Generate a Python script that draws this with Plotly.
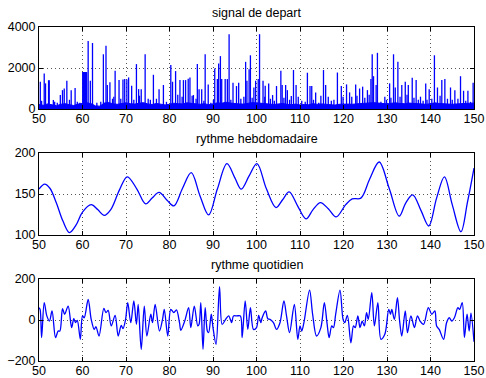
import numpy as np
import plotly.graph_objects as go
from plotly.subplots import make_subplots

# ---------------- data: signal de depart ----------------
floor_day = list(range(50, 151))
floor_val = [220, 180, 250, 200, 160, 230, 260, 210, 170, 240,
             280, 300, 260, 150, 140, 290, 320, 250, 230, 280,
             300, 260, 240, 280, 310, 250, 220, 270, 240, 200,
             230, 280, 260, 250, 300, 270, 240, 230, 260, 210,
             250, 300, 280, 330, 290, 260, 250, 240, 280, 310,
             300, 290, 260, 240, 220, 250, 270, 230, 210, 240,
             200, 220, 210, 260, 230, 250, 240, 200, 190, 230,
             250, 240, 230, 260, 270, 280, 300, 310, 290, 260,
             250, 280, 300, 270, 260, 290, 280, 250, 240, 230,
             260, 300, 270, 250, 240, 230, 250, 270, 260, 280,
             290]

spike_day = [50.3, 50.6, 51.2, 51.5, 52.2, 52.35, 53.3, 53.6, 54.2, 54.9,
             55.4, 55.8, 56.4, 57.0, 57.4, 58.3, 58.8, 59.4,
             60.05, 60.2, 60.35, 60.5, 60.65, 60.8, 60.95,
             61.3, 61.8, 62.3, 63.3, 64.2, 64.8, 65.4, 65.7, 66.3, 66.9,
             67.2, 67.5, 68.4, 68.8, 69.3, 69.7, 70.2, 70.6, 71.3, 71.8,
             72.4, 72.9, 73.1, 73.5, 74.4, 75.1, 75.6, 76.3, 77.0, 77.6,
             78.6, 79.3, 80.3, 80.7, 81.4, 81.9, 82.4, 82.9, 83.2, 83.7,
             84.3, 84.7, 85.2, 85.5, 86.1, 86.4, 86.8, 87.4, 87.9, 88.2,
             88.9, 89.5, 90.1, 90.4, 91.0, 91.3, 91.7, 92.0, 92.8, 93.3,
             93.7, 94.1, 94.6, 95.4, 95.9, 96.4, 97.1, 97.5, 97.8, 98.3,
             98.6, 99.0, 99.4, 99.8, 100.4, 100.7, 101.5, 101.9, 102.0, 102.8,
             103.2, 103.7, 104.1, 104.6, 105.6, 105.9, 106.3, 106.7, 107.1, 107.6,
             108.0, 108.5, 109.1, 109.6, 110.4, 111.2, 111.7, 112.3, 112.7, 113.1,
             113.6, 114.3, 114.8, 115.4, 115.9, 116.5, 117.2, 117.8, 118.6, 119.5,
             119.9, 120.7, 121.4, 121.9, 122.8, 123.1, 123.7, 124.4, 124.9, 125.5,
             125.9, 126.3, 126.6, 126.9, 127.5, 127.8, 128.6, 129.5, 129.9, 130.6,
             130.9, 131.5, 131.9, 132.5, 133.0, 133.4, 134.2, 134.6, 134.9, 135.8,
             136.2, 136.7, 137.2, 137.7, 138.3, 138.9, 139.2, 139.7, 140.3, 140.9,
             141.6, 142.2, 142.6, 143.3, 143.9, 144.6, 145.0, 145.6, 146.3, 146.9,
             147.6, 148.1, 148.6, 149.2, 149.8]
spike_val = [1330, 400, 1730, 1250, 1400, 1400, 440, 350, 300, 680,
             920, 1000, 1380, 450, 920, 1020, 350, 300,
             1800, 1800, 1800, 1800, 1800, 1800, 1800,
             3320, 1380, 3220, 300, 350, 2670, 3080, 1170, 1300, 500,
             600, 1860, 1410, 500, 1440, 1460, 1440, 1540, 1130, 450,
             2190, 970, 650, 960, 2670, 500, 450, 1670, 500, 960,
             1170, 350, 2150, 1330, 1850, 700, 1410, 600, 1410, 1410,
             1470, 1540, 650, 680, 500, 2190, 960, 960, 400, 2670,
             1200, 300, 450, 1980, 1460, 2220, 2580, 1460, 1460, 1460,
             3650, 450, 1280, 1120, 1280, 500, 600, 2300, 1380, 1940,
             2620, 550, 1050, 1380, 1460, 3650, 1380, 600, 1130, 1250,
             500, 680, 400, 1120, 1860, 1170, 550, 1170, 920, 450,
             630, 1900, 1170, 600, 400, 350, 1770, 1120, 1120, 450,
             810, 300, 650, 1900, 1170, 600, 400, 450, 1780, 1120,
             600, 1200, 810, 600, 1200, 650, 1000, 1090, 550, 920,
             700, 1460, 2670, 1600, 1170, 2740, 350, 600, 450, 1250,
             550, 2670, 1050, 2300, 600, 1170, 1330, 700, 1170, 1520,
             550, 1410, 450, 600, 400, 1250, 450, 960, 500, 2620,
             1050, 650, 1410, 1460, 500, 1050, 450, 920, 500, 1600,
             890, 400, 890, 350, 1280]

# ---------------- data: rythme hebdomadaire ----------------
week_day = [50, 51.3, 52.5, 54, 55.5, 57, 58.5, 60, 62, 63.5,
            65, 66.5, 68.5, 70.3, 72.5, 74.5, 76, 77.6, 79.5, 81,
            83, 85, 87, 89, 91, 93.2, 95, 96.5, 98.3, 100.1,
            102.3, 104.5, 106, 107.5, 109.5, 111.4, 113, 114.7, 116.5, 118.3,
            120.5, 122, 124, 126, 128.2, 130.5, 132.8, 134.3, 135.9, 137.8,
            139.6, 141.4, 143.2, 145, 147, 148.5, 150]
week_val = [156, 162, 157, 139, 117, 103, 112, 128, 137, 131,
            124, 131, 155, 171, 156, 138, 145, 152, 142, 135.5,
            157, 176, 148, 124.5, 156, 187, 170, 156, 172, 187,
            156, 133.5, 143, 152.5, 135, 119.6, 131, 139.6, 132, 122,
            137, 144, 145, 168, 189, 157, 123, 139, 149, 130,
            111, 145, 171, 137, 104, 140, 181.6]

# ---------------- data: rythme quotidien ----------------
day_t = [50.0, 50.25, 50.6, 51.2, 51.8, 52.4, 53.0, 53.8, 54.4, 54.8,
         55.4, 55.9, 56.7, 57.5, 58.0, 58.4, 58.8, 59.5, 60.0, 60.4,
         61.3, 62.0, 62.7, 63.1, 63.8, 64.9, 65.4, 65.9, 66.6, 67.5,
         68.2, 68.9, 69.3, 69.9, 70.4, 71.1, 71.8, 72.4, 72.8, 73.5,
         74.2, 74.8, 75.7, 76.1, 76.7, 77.7, 78.4, 78.8, 79.6, 80.3,
         81.0, 81.6, 82.3, 82.6, 83.5, 84.4, 84.9, 85.7, 86.5, 86.8,
         87.2, 87.7, 88.2, 88.7, 89.0, 89.6, 90.0, 90.7, 91.5, 92.1,
         92.9, 93.6, 94.3, 94.7, 95.5, 96.3, 96.7, 97.4, 98.0, 98.6,
         99.3, 100.0, 100.5, 101.0, 101.3, 102.1, 102.6, 103.1, 103.9, 104.6,
         105.4, 106.3, 106.9, 107.6, 108.7, 109.5, 110.0, 110.4, 110.9, 112.2,
         112.9, 113.8, 114.8, 115.6, 116.2, 116.7, 117.3, 117.7, 118.2, 119.2,
         119.9, 120.3, 120.9, 121.7, 122.3, 122.7, 123.3, 123.8, 124.3, 124.8,
         125.3, 125.7, 126.5, 127.1, 127.9, 128.6, 129.5, 130.4, 130.8, 131.1,
         131.7, 132.4, 132.9, 133.4, 134.2, 134.7, 135.5, 136.3, 137.0, 137.6,
         138.4, 139.5, 140.3, 141.0, 141.4, 142.0, 143.0, 143.7, 144.3, 144.9,
         145.5, 146.3, 146.7, 147.3, 147.8, 148.4, 148.9, 149.3, 150.0]
day_v = [60, 52, -86, 85, 20, -5, 44, -86, -54, -54,
         55, 28, 68, -37, 6, -13, -2, -94, 20, 11,
         100, 3, -46, -33, -78, 57, 36, 47, -29, 23,
         -78, -26, -42, 3, 85, -13, 93, -21, 76, -143,
         68, -78, 28, -13, 76, -54, 3, 52, -78, 52,
         36, 49, -13, -50, -5, 60, -37, 68, -29, -21,
         85, -143, 60, -54, -62, 28, -37, -119, 163, -21,
         3, 20, -13, 20, 20, 20, -86, 93, -46, 60,
         -46, -37, 23, -13, 11, 44, 6, 3, -13, -46,
         -13, 93, 20, -62, 76, -94, -29, -54, -13, 146,
         28, -78, -37, 85, -13, -86, -29, -37, 28, 146,
         3, -13, 23, -111, -29, -37, 20, -37, -5, -29,
         36, 3, 133, -29, 85, -94, -70, 52, 28, 52,
         3, 109, -5, -78, 44, -62, 20, -37, 20, -5,
         -21, 60, 28, 44, -29, -46, -94, -13, 11, -5,
         11, 60, 52, 85, -86, 28, -54, 33, -106]

titles = ["signal de depart", "rythme hebdomadaire", "rythme quotidien"]

# ---------------- build figure ----------------
fig = make_subplots(rows=3, cols=1, vertical_spacing=0.0)
BLUE = "#0000ff"

# baseline band of the raw signal
fig.add_trace(go.Scatter(x=floor_day, y=floor_val, mode="lines",
                         line=dict(color=BLUE, width=1), fill="tozeroy",
                         fillcolor=BLUE, hoverinfo="skip"), row=1, col=1)
# spikes as vertical strokes
sx, sy = [], []
for d, v in zip(spike_day, spike_val):
    sx += [d, d, None]
    sy += [0, v, None]
fig.add_trace(go.Scatter(x=sx, y=sy, mode="lines",
                         line=dict(color=BLUE, width=1.3)), row=1, col=1)

fig.add_trace(go.Scatter(x=week_day, y=week_val, mode="lines",
                         line=dict(color=BLUE, width=1.3, shape="spline", smoothing=1.0)),
              row=2, col=1)
fig.add_trace(go.Scatter(x=day_t, y=day_v, mode="lines",
                         line=dict(color=BLUE, width=1.3, shape="spline", smoothing=0.9)),
              row=3, col=1)

H = 334.0
domains = [((361 - 109) / H, 1.0), ((361 - 235) / H, (361 - 153) / H), (0.0, (361 - 279) / H)]
yranges = [[0, 4000], [100, 200], [-200, 200]]
ytickv = [[0, 2000, 4000], [100, 150, 200], [-200, 0, 200]]

FONT = "Liberation Sans, Arial, Helvetica, sans-serif"
GRID = "#555555"
for i in range(3):
    ax = "" if i == 0 else str(i + 1)
    fig.layout["yaxis" + ax].update(
        domain=list(domains[i]), range=yranges[i], tickvals=ytickv[i],
        automargin=False,
        showline=True, linecolor="black", linewidth=1, mirror="ticks",
        ticks="inside", ticklen=4, tickcolor="black",
        showgrid=True, gridcolor=GRID, griddash="1px,3px", gridwidth=1,
        zeroline=False, tickfont=dict(size=12.5, color="black", family=FONT))
    fig.layout["xaxis" + ax].update(
        range=[50, 150], tickvals=list(range(50, 151, 10)),
        automargin=False,
        showline=True, linecolor="black", linewidth=1, mirror="ticks",
        ticks="inside", ticklen=4, tickcolor="black",
        showgrid=True, gridcolor=GRID, griddash="1px,3px", gridwidth=1,
        zeroline=False, showticklabels=True, ticklabelstandoff=-2,
        tickfont=dict(size=12.5, color="black", family=FONT))
    fig.add_annotation(text=titles[i], xref="paper", yref="paper",
                       x=0.5, y=domains[i][1], yanchor="bottom", yshift=5,
                       showarrow=False, font=dict(size=12.5, color="black", family=FONT))

fig.update_layout(width=486, height=378, showlegend=False,
                  margin=dict(l=39, r=12, t=27, b=17),
                  paper_bgcolor="white", plot_bgcolor="white")

fig.write_html("out.html", config={"displayModeBar": False},
               post_script="document.body.style.margin='0';document.body.style.overflow='hidden';")
